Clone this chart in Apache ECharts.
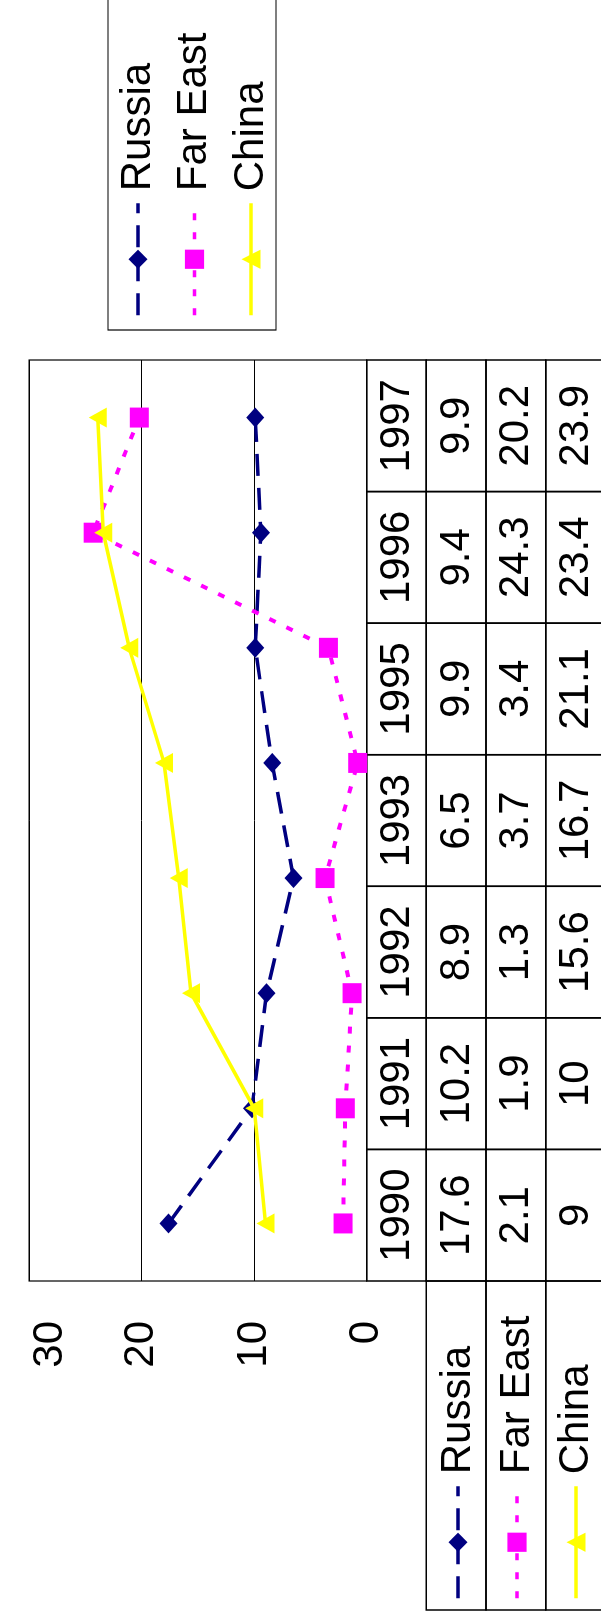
<!DOCTYPE html>
<html><head><meta charset="utf-8">
<script src="https://cdn.jsdelivr.net/npm/echarts@6/dist/echarts.min.js"></script>
<style>
html,body{margin:0;padding:0;background:#fff;overflow:hidden;width:601px;height:1616px;}
#chart{position:absolute;left:0;top:0;width:1616px;height:601px;transform-origin:0 0;transform:translate(0,1616px) rotate(-90deg);}
</style></head><body><div id="chart"></div>
<script>
// ---- data ----
const years = ['1990','1991','1992','1993','1994','1995','1996','1997'];
const russia = [17.6, 10.2, 8.9, 6.5, 8.4, 9.9, 9.4, 9.9];
const farEast = [2.1, 1.9, 1.3, 3.7, 0.8, 3.4, 24.3, 20.2];
const china = [9, 10, 15.6, 16.7, 18.0, 21.1, 23.4, 23.9];
const seriesNames = ['Russia', 'Far East', 'China'];
const tableYears = ['1990','1991','1992','1993','1995','1996','1997'];
const tableRussia = ['17.6','10.2','8.9','6.5','9.9','9.4','9.9'];
const tableFarEast = ['2.1','1.9','1.3','3.7','3.4','24.3','20.2'];
const tableChina = ['9','10','15.6','16.7','21.1','23.4','23.9'];
const tableRowNames = ['', 'Russia', 'Far East', 'China'];
const valueMin = 0, valueMax = 30, valueStep = 10;

// ---- layout / style ----
const FONT = "'Liberation Sans', Arial, sans-serif";
const FS = 42;
const LEGEND_CELL_LEFT = 6;
const CELL_STROKE = '#000';

const tableRows = [tableYears, tableRussia, tableFarEast, tableChina];
const tableData = [];
tableRows.forEach((row, r) => row.forEach((t, c) => tableData.push([c, r, t])));
[1, 2, 3].forEach(r => tableData.push([-1, r, '']));

function renderCell(params, api) {
  const item = tableData[params.dataIndex];
  const c = item[0], r = item[1];
  const size = api.size([1, 1]);
  const w = size[0], h = size[1];
  if (c < 0) {
    const p0 = api.coord([0, r]);
    const x1 = p0[0] - w / 2;
    return {type: 'rect', shape: {x: LEGEND_CELL_LEFT, y: p0[1] - h / 2, width: x1 - LEGEND_CELL_LEFT, height: h},
      style: {fill: 'none', stroke: CELL_STROKE, lineWidth: 1.5}};
  }
  const p = api.coord([c, r]);
  return {type: 'group', children: [
    {type: 'rect', shape: {x: p[0] - w / 2, y: p[1] - h / 2, width: w, height: h},
      style: {fill: 'none', stroke: CELL_STROKE, lineWidth: 1.5}},
    {type: 'text', style: {text: item[2], x: p[0], y: p[1] + 1, align: 'center', verticalAlign: 'middle',
      fontSize: FS, fontFamily: FONT, fill: '#000'}}
  ]};
}

const chart = echarts.init(document.getElementById('chart'), null, {renderer: 'canvas', width: 1616, height: 601});
const legendCommon = {
  data: seriesNames, orient: 'vertical', itemWidth: 112, itemHeight: 24, selectedMode: false,
  lineStyle: {width: 3.5},
  textStyle: {fontSize: FS, fontFamily: FONT, color: '#000', padding: [0, 0, 0, 7]}
};
chart.setOption({
  animation: false,
  backgroundColor: '#fff',
  textStyle: {fontFamily: FONT},
  legend: [
    Object.assign({}, legendCommon, {left: 1286, top: 108, padding: [9, 35, 4, 13], itemGap: 14.5,
      borderColor: '#000', borderWidth: 1.2}),
    Object.assign({}, legendCommon, {left: 16, top: 437, padding: 0, itemGap: 17})
  ],
  grid: [
    {left: 335, right: 360, top: 29, height: 337.7, show: true, borderColor: '#000', borderWidth: 1.2,
      backgroundColor: 'transparent', outerBoundsMode: 'none'},
    {left: 335, right: 360, top: 366.7, height: 238.6, show: false, outerBoundsMode: 'none'}
  ],
  xAxis: [
    {type: 'category', gridIndex: 0, data: years, boundaryGap: true,
      axisLine: {show: false}, axisTick: {show: false}, axisLabel: {show: false}, splitLine: {show: false}},
    {type: 'category', gridIndex: 1, data: tableYears, show: false}
  ],
  yAxis: [
    {type: 'value', gridIndex: 0, min: valueMin, max: valueMax, interval: valueStep,
      axisLine: {show: false}, axisTick: {show: false},
      axisLabel: {fontSize: FS, fontFamily: FONT, color: '#000', margin: 40, verticalAlignMaxLabel: 'top'},
      splitLine: {show: true, lineStyle: {color: '#000', width: 1}}},
    {type: 'category', gridIndex: 1, data: tableRowNames, inverse: true, show: false}
  ],
  series: [
    {name: 'Russia', type: 'line', xAxisIndex: 0, yAxisIndex: 0, data: russia,
      symbol: 'diamond', symbolSize: [20, 18], z: 3,
      lineStyle: {color: '#000080', width: 3.5, type: [22, 12]}, itemStyle: {color: '#000080', borderWidth: 0}},
    {name: 'Far East', type: 'line', xAxisIndex: 0, yAxisIndex: 0, data: farEast,
      symbol: 'rect', symbolSize: [20, 19], z: 4,
      lineStyle: {color: '#FF00FF', width: 4, type: [7, 12]}, itemStyle: {color: '#FF00FF', borderWidth: 0}},
    {name: 'China', type: 'line', xAxisIndex: 0, yAxisIndex: 0, data: china,
      symbol: 'triangle', symbolSize: [20, 18], z: 5,
      lineStyle: {color: '#FFFF00', width: 3.5, type: 'solid'}, itemStyle: {color: '#FFFF00', borderWidth: 0}},
    {type: 'custom', xAxisIndex: 1, yAxisIndex: 1, data: tableData, renderItem: renderCell,
      encode: {x: 0, y: 1}, silent: true, z: 2}
  ]
});
</script></body></html>
